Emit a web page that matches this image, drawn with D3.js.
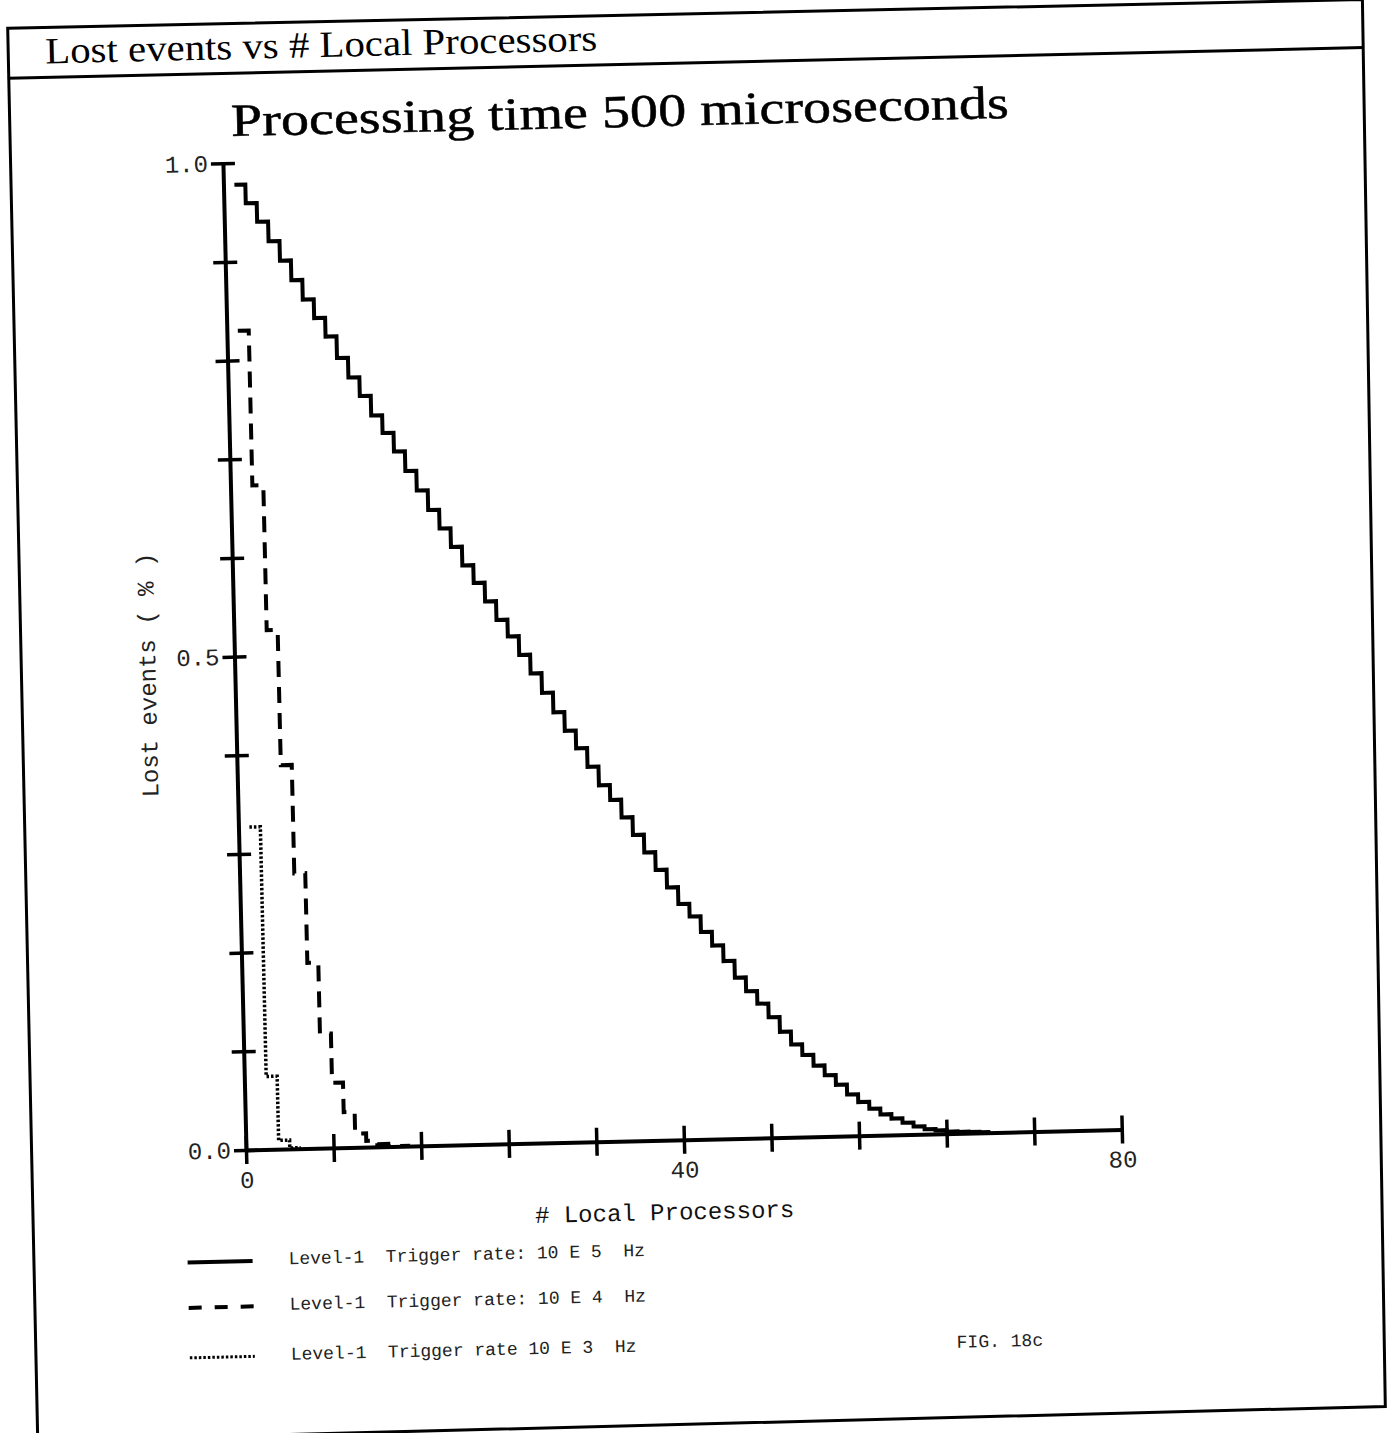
<!DOCTYPE html>
<html>
<head>
<meta charset="utf-8">
<script src="https://cdn.jsdelivr.net/npm/d3@7"></script>
<style>
  html, body { margin: 0; padding: 0; background: #fff; }
  svg { display: block; }
</style>
</head>
<body>
<svg id="chart" width="1398" height="1433"></svg>
<script>
// Fraction of lost events per number of local processors (N = 1, 2, 3, ...)
const lossRate1e5 = [
  0.978, 0.959, 0.940, 0.920, 0.900, 0.880, 0.860, 0.841, 0.822, 0.800,
  0.780, 0.761, 0.741, 0.723, 0.704, 0.684, 0.664, 0.644, 0.625, 0.606,
  0.587, 0.569, 0.550, 0.531, 0.514, 0.495, 0.476, 0.456, 0.436, 0.417,
  0.399, 0.380, 0.361, 0.346, 0.328, 0.310, 0.292, 0.274, 0.256, 0.239,
  0.226, 0.210, 0.196, 0.180, 0.163, 0.149, 0.136, 0.122, 0.107, 0.094,
  0.083, 0.072, 0.062, 0.052, 0.042, 0.034, 0.027, 0.021, 0.0165, 0.012,
  0.008, 0.005, 0.0035, 0.002, 0.0015, 0.001, 0.0005
];
const lossRate1e4 = [
  0.830, 0.673, 0.526, 0.389, 0.279, 0.188, 0.116, 0.066, 0.036, 0.014,
  0.0064, 0.0028, 0.001, 0.0005
];
const lossRate1e3 = [0.327, 0.074, 0.009, 0.001];

const xTicks = [0, 8, 16, 24, 32, 40, 48, 56, 64, 72, 80];
const xTickLabels = [0, 40, 80];
const yTicks = [0, 0.1, 0.2, 0.3, 0.4, 0.5, 0.6, 0.7, 0.8, 0.9, 1.0];
const yTickLabels = [0, 0.5, 1.0];

const pageTitle = "Lost events vs # Local Processors";
const chartTitle = "Processing time 500 microseconds";
const xLabel = "# Local Processors";
const yLabel = "Lost events ( % )";
const legendLabels = [
  "Level-1  Trigger rate: 10 E 5  Hz",
  "Level-1  Trigger rate: 10 E 4  Hz",
  "Level-1  Trigger rate 10 E 3  Hz"
];
const figureNote = "FIG. 18c";

const series = [
  { values: lossRate1e5, dash: null,    width: 4   },
  { values: lossRate1e4, dash: "16,10", width: 4   },
  { values: lossRate1e3, dash: "2.5,2", width: 3.5 }
];

const svg = d3.select("#chart");
const origin = [246, 1150];
const x = d3.scaleLinear().domain([0, 80]).range([origin[0], origin[0] + 876]);
const y = d3.scaleLinear().domain([0, 1]).range([origin[1], origin[1] - 987]);

// the printed sheet sits slightly askew on the page
const page = svg.append("g")
  .attr("transform", `rotate(-1.34, ${origin[0]}, ${origin[1]})`);

const mono = "'Liberation Mono', 'DejaVu Sans Mono', monospace";
const serif = "'Liberation Serif', 'DejaVu Serif', serif";

// outer frame and heading bar
page.append("path")
  .attr("d", "M34,23 L1389,26 L1379,1433 L31,1436 Z")
  .attr("fill", "none").attr("stroke", "#000").attr("stroke-width", 3);
page.append("line")
  .attr("x1", 33).attr("y1", 73).attr("x2", 1389).attr("y2", 74)
  .attr("stroke", "#000").attr("stroke-width", 3);

page.append("text")
  .attr("x", 71).attr("y", 59)
  .attr("font-family", serif).attr("font-size", 37)
  .attr("textLength", 552).attr("lengthAdjust", "spacingAndGlyphs")
  .attr("fill", "#000")
  .text(pageTitle);

page.append("text")
  .attr("x", 644).attr("y", 136)
  .attr("text-anchor", "middle")
  .attr("font-family", serif).attr("font-size", 46)
  .attr("textLength", 778).attr("lengthAdjust", "spacingAndGlyphs")
  .attr("fill", "#000").attr("stroke", "#000").attr("stroke-width", 0.5)
  .text(chartTitle);

// axes
const xAxis = d3.axisBottom(x)
  .tickValues(xTicks).tickSize(14).tickSizeOuter(0)
  .tickFormat(d => xTickLabels.includes(d) ? String(d) : "");
const gx = page.append("g")
  .attr("transform", `translate(0,${y(0)})`)
  .call(xAxis);
gx.select(".domain").attr("stroke", "#000").attr("stroke-width", 4);
gx.selectAll(".tick line").attr("y1", -14).attr("y2", 14)
  .attr("stroke", "#000").attr("stroke-width", 3.5);
gx.selectAll(".tick text")
  .attr("y", 21).attr("dy", "0.71em")
  .attr("font-family", mono).attr("font-size", 24).attr("fill", "#222");

const yAxis = d3.axisLeft(y)
  .tickValues(yTicks).tickSize(12).tickSizeOuter(0)
  .tickFormat(d => yTickLabels.some(v => Math.abs(v - d) < 1e-9) ? d3.format(".1f")(d) : "");
const gy = page.append("g")
  .attr("transform", `translate(${x(0)},0)`)
  .call(yAxis);
gy.select(".domain").attr("stroke", "#000").attr("stroke-width", 4);
gy.selectAll(".tick line").attr("x1", -12).attr("x2", 12)
  .attr("stroke", "#000").attr("stroke-width", 3.5);
gy.selectAll(".tick text")
  .attr("x", -15).attr("dy", "0.32em")
  .attr("font-family", mono).attr("font-size", 24).attr("fill", "#222");

page.append("text")
  .attr("x", 663).attr("y", 1222).attr("dy", "0.32em")
  .attr("text-anchor", "middle")
  .attr("font-family", mono).attr("font-size", 24).attr("fill", "#111")
  .text(xLabel);

page.append("text")
  .attr("transform", "translate(159,673) rotate(-90)")
  .attr("dy", "0.32em")
  .attr("text-anchor", "middle")
  .attr("font-family", mono).attr("font-size", 24).attr("fill", "#222")
  .text(yLabel);

// step curves: each value holds from N to N+1
const stepLine = d3.line()
  .x(d => x(d.n)).y(d => y(d.v))
  .curve(d3.curveStepAfter);

series.forEach(s => {
  const pts = s.values.map((v, i) => ({ n: i + 1, v }));
  pts.push({ n: s.values.length + 1, v: s.values[s.values.length - 1] });
  page.append("path")
    .datum(pts)
    .attr("d", stepLine)
    .attr("fill", "none")
    .attr("stroke", "#000")
    .attr("stroke-width", s.width)
    .attr("stroke-dasharray", s.dash)
    .attr("stroke-linejoin", "miter");
});

// legend
const legendRows = [1261, 1306.5, 1356.5];
const legendDash = [null, "13,13", "2.5,2"];
const legendWidth = [4, 4, 3];
legendLabels.forEach((label, i) => {
  page.append("line")
    .attr("x1", 185).attr("x2", 250)
    .attr("y1", legendRows[i]).attr("y2", legendRows[i])
    .attr("stroke", "#000").attr("stroke-width", legendWidth[i])
    .attr("stroke-dasharray", legendDash[i]);
  page.append("text")
    .attr("x", 286).attr("y", legendRows[i] - 1.5).attr("dy", "0.32em")
    .attr("font-family", mono).attr("font-size", 18).attr("fill", "#222")
    .attr("xml:space", "preserve")
    .style("white-space", "pre")
    .text(label);
});

page.append("text")
  .attr("x", 952).attr("y", 1358.5).attr("dy", "0.32em")
  .attr("font-family", mono).attr("font-size", 18).attr("fill", "#222")
  .text(figureNote);
</script>
</body>
</html>
